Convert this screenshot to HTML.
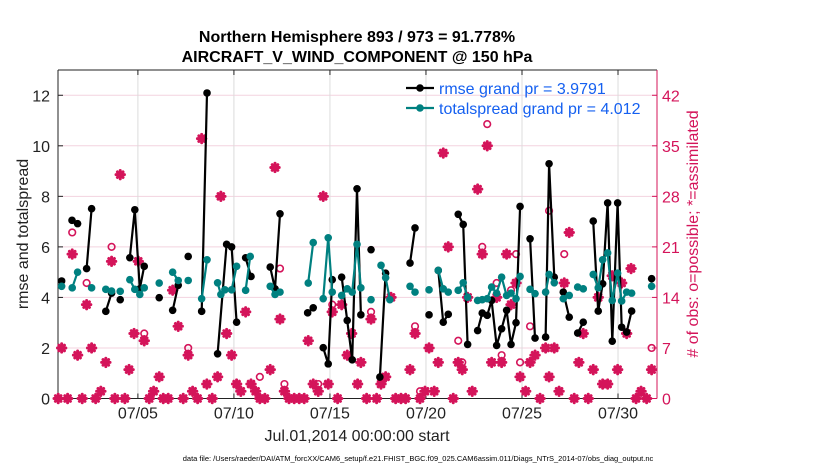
<!DOCTYPE html>
<html><head><meta charset="utf-8"><style>
body{margin:0;background:#fff;}
svg{display:block;font-family:"Liberation Sans",Arial,sans-serif;}
</style></head><body>
<svg id="chart" width="830" height="470" viewBox="0 0 830 470"></svg>
<script>
const leftTicks=[0,2,4,6,8,10,12];
const rightTicks=[0,7,14,21,28,35,42];
const xTickDays=[5,10,15,20,25,30];
const xTickLabels=["07/05","07/10","07/15","07/20","07/25","07/30"];
const rmseDays=[1.03,null,1.57,1.86,null,2.33,2.59,null,3.33,3.63,null,4.08,null,4.58,4.84,5.1,5.33,null,6.11,null,6.81,7.1,null,7.62,null,8.32,8.6,null,9.15,9.62,9.88,10.14,null,10.61,10.89,null,11.89,12.14,12.4,null,13.84,14.13,null,14.65,14.91,15.12,null,15.61,15.9,16.16,16.41,16.61,null,17.14,null,17.6,17.9,null,19.17,19.43,null,20.16,null,20.64,20.9,21.16,null,21.68,21.94,22.17,null,22.69,22.93,23.19,23.42,23.68,23.94,24.2,24.43,24.69,24.9,null,25.42,25.68,null,26.23,26.41,26.68,null,27.15,27.46,null,27.9,28.19,null,28.71,28.97,29.2,29.46,29.7,29.98,30.19,30.45,30.71,null,31.75];
const rmseVals=[4.65,null,7.05,6.92,null,5.14,7.51,null,3.45,4.17,null,3.91,null,5.57,7.47,4.34,5.23,null,3.99,null,3.49,4.48,null,5.62,null,3.45,12.09,null,1.77,6.1,6.0,3.02,null,5.57,4.83,null,5.2,4.34,7.31,null,3.39,3.59,null,2.01,1.37,4.7,null,4.8,3.09,1.53,8.3,3.31,null,5.89,null,0.85,4.96,null,5.36,6.75,null,3.31,null,5.07,3.02,3.33,null,7.29,6.89,2.14,null,2.69,3.38,3.29,3.88,2.1,2.76,3.49,2.14,3.0,7.6,null,6.32,2.39,null,2.43,9.29,4.8,null,4.21,3.22,null,2.59,3.02,null,7.02,3.46,4.54,7.74,2.27,7.74,2.82,2.63,3.46,null,4.74];
const spreadDays=[1.03,null,1.58,1.86,null,2.59,null,3.33,3.63,null,4.08,null,4.58,4.84,5.1,5.33,null,6.11,null,6.81,7.1,null,7.62,null,8.32,8.6,null,9.15,9.32,9.53,9.88,10.14,null,10.61,10.85,null,11.89,12.14,12.4,null,13.87,14.13,null,14.65,14.91,15.12,null,15.61,15.9,16.16,16.41,16.61,null,17.14,null,17.66,17.9,18.12,null,19.17,19.43,null,20.16,null,20.64,20.9,21.16,null,21.68,21.94,22.17,null,22.69,22.93,23.19,23.42,23.68,23.94,24.2,24.43,24.69,24.9,null,25.42,25.68,null,26.23,26.41,26.68,null,27.15,27.46,null,27.9,28.19,null,28.71,28.97,29.2,29.46,29.7,29.98,30.19,30.45,30.71,null,31.75];
const spreadVals=[4.44,null,4.38,5.0,null,4.38,null,4.32,4.25,null,4.24,null,4.7,4.32,4.12,4.38,null,4.57,null,5.0,4.67,null,4.67,null,3.95,5.49,null,4.58,4.12,4.3,4.3,5.23,null,4.28,5.62,null,4.44,4.12,4.21,null,4.57,6.17,null,3.95,6.36,4.21,null,4.08,4.34,4.21,6.1,4.38,null,3.91,null,5.27,4.78,3.91,null,4.44,4.21,null,4.3,null,5.07,4.34,4.21,null,4.28,4.58,4.01,null,3.88,3.91,3.95,4.41,4.17,4.8,4.08,4.17,3.95,4.83,null,4.32,4.15,null,4.21,4.91,4.58,null,3.95,4.08,null,4.41,4.34,null,4.91,4.38,5.49,5.76,3.88,4.96,3.86,4.21,4.17,null,4.44];
const assimDays=[0.85,1.03,1.34,1.58,1.86,2.10,2.33,2.59,2.80,3.07,3.33,3.63,3.80,4.08,4.32,4.54,4.80,5.02,5.33,5.59,5.82,6.11,6.32,6.58,6.81,7.10,7.36,7.62,7.85,8.11,8.32,8.59,8.87,9.15,9.32,9.62,9.88,10.14,10.36,10.61,10.89,11.13,11.35,11.61,11.89,12.14,12.40,12.63,12.87,13.14,13.40,13.66,13.87,14.13,14.39,14.65,14.91,15.12,15.40,15.61,15.90,16.13,16.44,16.61,16.91,17.14,17.43,17.66,17.90,18.18,18.42,18.70,18.94,19.17,19.43,19.69,19.95,20.16,20.43,20.64,20.90,21.16,21.42,21.68,21.89,22.17,22.41,22.69,22.93,23.19,23.42,23.68,23.94,24.20,24.43,24.69,24.90,25.19,25.42,25.68,25.94,26.23,26.41,26.68,26.93,27.20,27.46,27.72,27.96,28.19,28.45,28.71,28.97,29.20,29.46,29.70,29.98,30.19,30.45,30.68,30.94,31.20,31.49,31.75];
const assimCounts=[0,7,0,20,6,0,13,7,0,1,5,19,0,31,0,4,9,19,8,0,1,3,0,0,15,10,0,6,1,0,36,2,0,3,28,9,6,2,1,12,2,1,0,0,4,32,11,1,0,0,0,0,8,2,1,28,2,12,0,13,6,9,2,5,0,11,0,2,3,14,0,0,0,4,9,0,1,7,1,5,34,21,0,5,4,14,1,29,20,35,5,14,5,20,13,16,3,1,5,6,0,7,3,7,1,16,23,0,5,9,0,4,14,2,2,17,4,16,9,18,0,1,0,4];
const possDays=[1.58,2.33,3.63,5.33,7.62,11.35,12.40,12.63,14.39,15.12,17.14,19.43,19.69,21.68,21.89,22.93,23.19,23.68,23.94,24.69,24.43,24.90,25.42,26.41,27.20,31.75];
const possCounts=[23,16,21,9,7,3,18,2,2,13,12,10,1,8,5,21,38,16,6,20,15,5,10,26,20,7];

const NS="http://www.w3.org/2000/svg";
const svg=document.getElementById('chart');
const L=58,R=657,T=70,B=398.5;
const dMin=0.84,dMax=32.03;
function xs(d){return L+(d-dMin)/(dMax-dMin)*(R-L);}
function yl(v){return B-v/13*(B-T);}
function yr(c){return B-c/45.5*(B-T);}
const CR="#d4145a";
function el(tag,attrs,parent){const e=document.createElementNS(NS,tag);for(const k in attrs)e.setAttribute(k,attrs[k]);(parent||svg).appendChild(e);return e;}

const grid=el('g',{});


leftTicks.forEach(v=>{const g=el('line',{x1:L,x2:R,y1:yl(v),y2:yl(v),stroke:'#f3d3df','stroke-width':1},grid);

});
xTickDays.forEach(d=>{const g=el('line',{x1:xs(d),x2:xs(d),y1:T,y2:B,stroke:'#dcdcdc','stroke-width':1},grid);

});

const frame=el('g',{});


el('line',{x1:L,x2:R,y1:T,y2:T,stroke:'#222','stroke-width':1},frame);
el('line',{x1:L,x2:R,y1:B,y2:B,stroke:'#222','stroke-width':1},frame);
el('line',{x1:L,x2:L,y1:T,y2:B,stroke:'#222','stroke-width':1},frame);
el('line',{x1:R,x2:R,y1:T,y2:B,stroke:CR,'stroke-width':1},frame);

leftTicks.forEach(v=>{
 el('line',{x1:L,x2:L+5,y1:yl(v),y2:yl(v),stroke:'#222'});
 const t=el('text',{x:L-8,y:yl(v)+6,'text-anchor':'end','font-size':16,fill:'#222'});
 t.textContent=v;
 
 
});
rightTicks.forEach(c=>{
 el('line',{x1:R-5,x2:R,y1:yr(c),y2:yr(c),stroke:CR});
 const t=el('text',{x:R+5,y:yr(c)+6,'text-anchor':'start','font-size':16,fill:CR});
 t.textContent=c;
 
 
});
xTickDays.forEach((d,i)=>{
 el('line',{x1:xs(d),x2:xs(d),y1:B,y2:B-5,stroke:'#222'});
 el('line',{x1:xs(d),x2:xs(d),y1:T,y2:T+5,stroke:'#222'});
 const t=el('text',{x:xs(d),y:B+20,'text-anchor':'middle','font-size':16,fill:'#222'});
 t.textContent=xTickLabels[i];
 
 
});

const obsG=el('g',{});


possDays.forEach((d,i)=>{
 const c=el('circle',{cx:xs(d),cy:yr(possCounts[i]),r:3.3,fill:'none',stroke:CR,'stroke-width':1.6},obsG);
 
 
});
assimDays.forEach((d,i)=>{
 const x=xs(d),y=yr(assimCounts[i]),s=4.2;
 const g=el('g',{stroke:CR,'stroke-width':3,'stroke-linecap':'round'},obsG);
 
 
 el('line',{x1:x-s,x2:x+s,y1:y,y2:y},g);
 el('line',{x1:x,x2:x,y1:y-s,y2:y+s},g);
 el('line',{x1:x-2.8,x2:x+2.8,y1:y-2.8,y2:y+2.8},g);
 el('line',{x1:x-2.8,x2:x+2.8,y1:y+2.8,y2:y-2.8},g);
});

function series(days,vals,color,name){
 const g=el('g',{});
 
 
 let d='',pen=false;
 days.forEach((dd,i)=>{
  if(dd===null||vals[i]===null){pen=false;return;}
  d+=(pen?'L':'M')+xs(dd).toFixed(1)+' '+yl(vals[i]).toFixed(1)+' ';pen=true;
 });
 el('path',{d:d,fill:'none',stroke:color,'stroke-width':2.2,'stroke-linejoin':'round'},g);
 days.forEach((dd,i)=>{
  if(dd===null||vals[i]===null)return;
  const c=el('circle',{cx:xs(dd),cy:yl(vals[i]),r:3.8,fill:color},g);
  
  
 });
}
series(rmseDays,rmseVals,'#000','rmse-series');
series(spreadDays,spreadVals,'#008080','totalspread-series');

const lg=el('g',{});


[['#000','rmse grand pr = 3.9791',88],['#008080','totalspread grand pr = 4.012',108]].forEach(([c,t,y])=>{
 el('line',{x1:406,x2:434,y1:y,y2:y,stroke:c,'stroke-width':2.2},lg);
 el('circle',{cx:420,cy:y,r:3.8,fill:c},lg);
 const tx=el('text',{x:439,y:y+6,'font-size':16,fill:'#1560f0'},lg);
 tx.textContent=t;
 
 
});
</script>
<svg style="position:absolute;left:0;top:0" width="830" height="470">
<text x="357" y="42" text-anchor="middle" font-size="16" font-weight="bold" font-family="Liberation Sans, sans-serif" fill="#000">Northern Hemisphere 893 / 973 = 91.778%</text>
<text x="357" y="62" text-anchor="middle" font-size="16" font-weight="bold" font-family="Liberation Sans, sans-serif" fill="#000">AIRCRAFT_V_WIND_COMPONENT @ 150 hPa</text>
<text x="357" y="441" text-anchor="middle" font-size="16" font-family="Liberation Sans, sans-serif" fill="#222">Jul.01,2014 00:00:00 start</text>
<text transform="translate(28,234) rotate(-90)" text-anchor="middle" font-size="16" font-family="Liberation Sans, sans-serif" fill="#222">rmse and totalspread</text>
<text transform="translate(698,234) rotate(-90)" text-anchor="middle" font-size="16" font-family="Liberation Sans, sans-serif" fill="#d4145a"># of obs: o=possible; *=assimilated</text>
<text x="418" y="461" text-anchor="middle" font-size="7.5" font-family="Liberation Sans, sans-serif" fill="#000">data file: /Users/raeder/DAI/ATM_forcXX/CAM6_setup/f.e21.FHIST_BGC.f09_025.CAM6assim.011/Diags_NTrS_2014-07/obs_diag_output.nc</text>
</svg>
<style>body{position:relative;width:830px;height:470px;overflow:hidden}</style>
</body></html>
